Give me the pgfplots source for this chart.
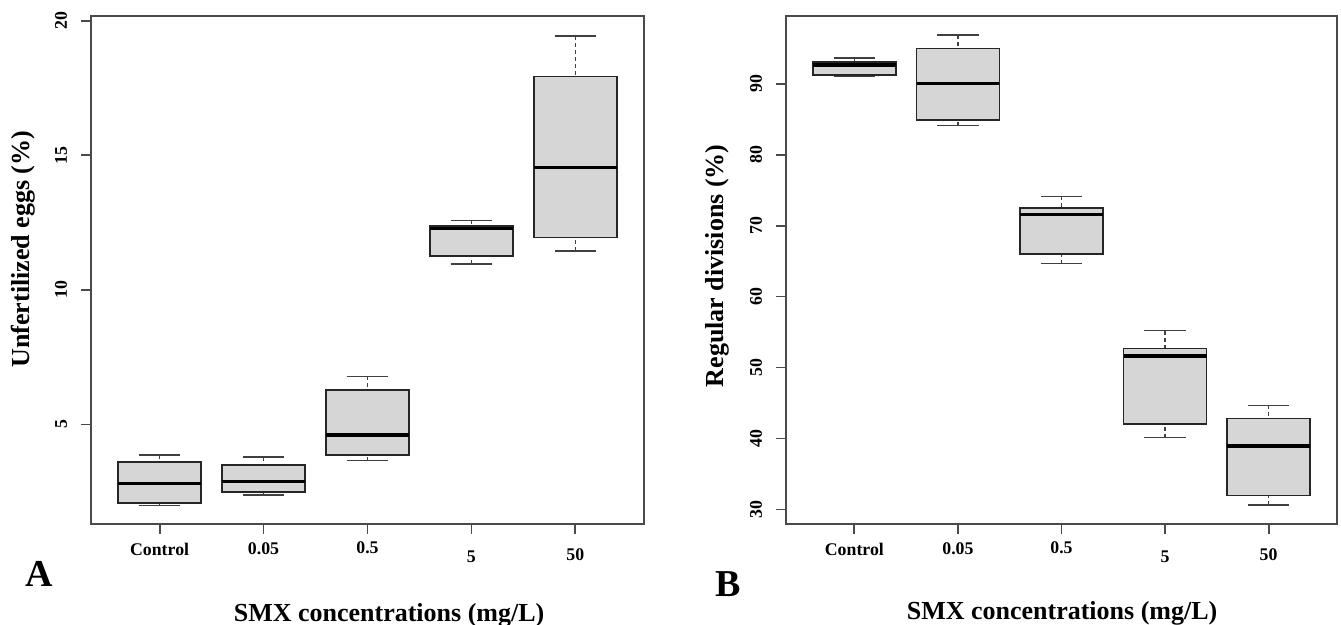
\documentclass[border=0pt]{standalone}
\usepackage{pgfplots}
\pgfplotsset{compat=1.18}
\usepgfplotslibrary{statistics}
\usepackage{fontspec}
\setmainfont{Liberation Serif}
\definecolor{boxgray}{HTML}{D6D6D6}
\definecolor{framegray}{HTML}{4A4A4A}
\pgfplotsset{
  rbox/.style={
    /pgf/number format/assume math mode=true,
    scale only axis, clip=false,
    xmin=0.34, xmax=5.66,
    xtick={1,2,3,4,5},
    xticklabels={Control,0.05,\raisebox{0.5pt}[\height]{0.5},\raisebox{-4pt}[\height]{5},\raisebox{-3pt}[\height]{50}},
    tick pos=left, tick align=outside, major tick length=5pt,
    tick style={framegray, line width=0.9pt},
    axis line style={framegray, line width=0.9pt},
    ticklabel style={font=\fontsize{8.9}{10}\selectfont\bfseries},
    xticklabel style={yshift=-1pt},
    yticklabel style={xshift=-3.5pt, rotate=90, anchor=south},
    label style={font=\fontsize{13}{15}\selectfont\bfseries},
    boxplot/draw direction=y,
    boxplot/box extend=0.8,
    boxplot/every box/.style={draw=black!85, line width=0.8pt, fill=boxgray},
    boxplot/every median/.style={draw=black, line width=1.7pt},
    boxplot/draw/lower whisker/.code={%
      \draw[black!75, line width=0.7pt, dash pattern=on 2pt off 1.5pt]
        (boxplot box cs:\pgfplotsboxplotvalue{lower whisker},0.5) --
        (boxplot box cs:\pgfplotsboxplotvalue{lower quartile},0.5);
      \draw[black!75, line width=0.7pt]
        (boxplot box cs:\pgfplotsboxplotvalue{lower whisker},0.25) --
        (boxplot box cs:\pgfplotsboxplotvalue{lower whisker},0.75);
    },
    boxplot/draw/upper whisker/.code={%
      \draw[black!75, line width=0.7pt, dash pattern=on 2pt off 1.5pt]
        (boxplot box cs:\pgfplotsboxplotvalue{upper whisker},0.5) --
        (boxplot box cs:\pgfplotsboxplotvalue{upper quartile},0.5);
      \draw[black!75, line width=0.7pt]
        (boxplot box cs:\pgfplotsboxplotvalue{upper whisker},0.25) --
        (boxplot box cs:\pgfplotsboxplotvalue{upper whisker},0.75);
    },
  }
}
\begin{document}
\begin{tikzpicture}
\path[use as bounding box] (0,0) rectangle (670.5pt,312.5pt);
% Panel A
\begin{axis}[rbox,
  at={(45.5pt,50.5pt)}, anchor=south west,
  width=276.5pt, height=254pt,
  ymin=1.3, ymax=20.18,
  ytick={5,10,15,20},
  ylabel={Unfertilized eggs (\%)},
  ylabel style={at={(axis description cs:-0.123,0.541)}, anchor=center},
  xlabel={SMX concentrations (mg/L)},
  xlabel style={at={(axis description cs:0.539,-0.180)}, anchor=center},
]
\addplot[boxplot prepared={draw position=1, lower whisker=1.98, lower quartile=2.09, median=2.80, upper quartile=3.61, upper whisker=3.86}] coordinates {};
\addplot[boxplot prepared={draw position=2, lower whisker=2.38, lower quartile=2.49, median=2.87, upper quartile=3.49, upper whisker=3.79}] coordinates {};
\addplot[boxplot prepared={draw position=3, lower whisker=3.65, lower quartile=3.86, median=4.60, upper quartile=6.27, upper whisker=6.79}] coordinates {};
\addplot[boxplot prepared={draw position=4, lower whisker=10.96, lower quartile=11.27, median=12.28, upper quartile=12.38, upper whisker=12.59}] coordinates {};
\addplot[boxplot prepared={draw position=5, lower whisker=11.45, lower quartile=11.95, median=14.56, upper quartile=17.93, upper whisker=19.44}] coordinates {};
\node[font=\fontsize{19}{22}\selectfont\bfseries] at (axis description cs:-0.094,-0.099) {A};
\end{axis}
% Panel B
\begin{axis}[rbox,
  at={(393pt,50.5pt)}, anchor=south west,
  width=275.5pt, height=254pt,
  ymin=27.95, ymax=99.55,
  ytick={30,40,50,60,70,80,90},
  ylabel={Regular divisions (\%)},
  ylabel style={at={(axis description cs:-0.125,0.508)}, anchor=center},
  xlabel={SMX concentrations (mg/L)},
  xlabel style={at={(axis description cs:0.501,-0.176)}, anchor=center},
]
\addplot[boxplot prepared={draw position=1, lower whisker=91.07, lower quartile=91.23, median=92.64, upper quartile=93.09, upper whisker=93.65}] coordinates {};
\addplot[boxplot prepared={draw position=2, lower whisker=84.11, lower quartile=84.89, median=90.06, upper quartile=94.94, upper whisker=96.85}] coordinates {};
\addplot[boxplot prepared={draw position=3, lower whisker=64.64, lower quartile=66.04, median=71.54, upper quartile=72.49, upper whisker=74.12}] coordinates {};
\addplot[boxplot prepared={draw position=4, lower whisker=40.11, lower quartile=42.08, median=51.62, upper quartile=52.68, upper whisker=55.21}] coordinates {};
\addplot[boxplot prepared={draw position=5, lower whisker=30.63, lower quartile=31.98, median=38.93, upper quartile=42.81, upper whisker=44.66}] coordinates {};
\node[font=\fontsize{19}{22}\selectfont\bfseries] at (axis description cs:-0.105,-0.119) {B};
\end{axis}
\end{tikzpicture}
\end{document}
